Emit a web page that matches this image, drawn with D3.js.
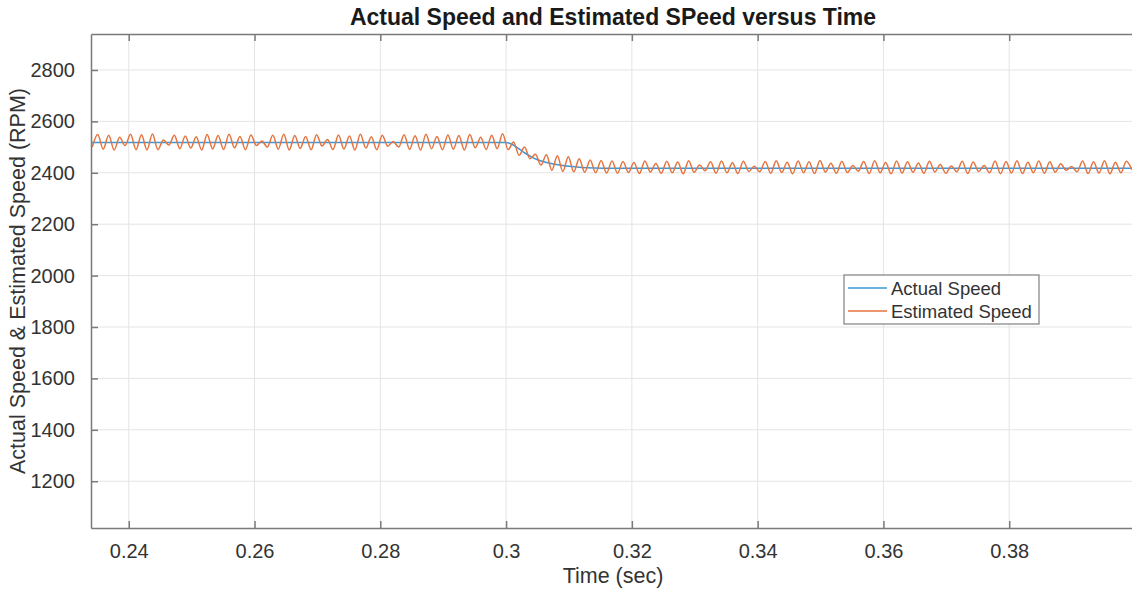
<!DOCTYPE html>
<html>
<head>
<meta charset="utf-8">
<script src="https://cdn.jsdelivr.net/npm/d3@7"></script>
<style>
  html, body { margin: 0; padding: 0; background: #ffffff; }
  svg { display: block; font-family: "Liberation Sans", Arial, Helvetica, sans-serif; }
</style>
</head>
<body>
<svg id="chart" width="1132" height="591"></svg>
<script>
// ---- data ---------------------------------------------------------------
const xTicks = [0.24, 0.26, 0.28, 0.30, 0.32, 0.34, 0.36, 0.38];
const xTickLabels = ["0.24", "0.26", "0.28", "0.3", "0.32", "0.34", "0.36", "0.38"];
const yTicks = [1200, 1400, 1600, 1800, 2000, 2200, 2400, 2600, 2800];
const yTickLabels = ["1200", "1400", "1600", "1800", "2000", "2200", "2400", "2600", "2800"];

// actual rotor speed (RPM) at selected instants (s)
const actualTime = [0.2340, 0.3000, 0.3010, 0.3020, 0.3030, 0.3040, 0.3050, 0.3060,
                    0.3070, 0.3080, 0.3090, 0.3100, 0.3120, 0.3140, 0.3170, 0.4000];
const actualSpeed = [2518, 2518, 2510, 2494, 2477, 2462, 2451, 2443,
                     2437, 2432, 2428, 2425, 2421, 2419, 2418, 2418];

// estimated speed (RPM), sampled every estDt seconds from estT0
const estT0 = 0.2342;
const estDt = 0.00087;
const estimatedSpeed = [
  2500, 2549, 2492, 2546, 2489, 2538, 2506, 2550, 2490, 2548,
  2489, 2551, 2490, 2528, 2508, 2546, 2494, 2543, 2496, 2540,
  2489, 2549, 2493, 2545, 2491, 2550, 2497, 2541, 2490, 2547,
  2506, 2524, 2500, 2546, 2492, 2550, 2489, 2545, 2495, 2541,
  2490, 2548, 2504, 2530, 2491, 2547, 2493, 2543, 2489, 2550,
  2496, 2540, 2490, 2546, 2503, 2522, 2500, 2548, 2491, 2544,
  2489, 2550, 2494, 2541, 2490, 2547, 2492, 2545, 2489, 2549,
  2497, 2538, 2491, 2546, 2494, 2552,
  2490, 2520, 2468, 2500, 2455, 2472, 2430, 2470, 2410, 2466,
  2405, 2462, 2404, 2455, 2402, 2450, 2400, 2448, 2399, 2446,
  2398, 2444, 2401, 2440, 2397, 2446, 2403, 2436, 2398, 2445,
  2400, 2442, 2396, 2447, 2402, 2430, 2408, 2443, 2398, 2446,
  2400, 2439, 2397, 2445, 2405, 2425, 2404, 2444, 2398, 2447,
  2401, 2441, 2396, 2446, 2400, 2443, 2397, 2448, 2403, 2437,
  2398, 2445, 2401, 2428, 2406, 2444, 2397, 2447, 2400, 2440,
  2396, 2446, 2399, 2443, 2402, 2438, 2398, 2445, 2403, 2432,
  2398, 2426, 2404, 2445, 2397, 2442, 2405, 2428, 2400, 2446,
  2396, 2444, 2399, 2447, 2397, 2441, 2400, 2446, 2398, 2443,
  2402, 2435, 2410, 2424, 2404, 2446, 2397, 2443, 2399, 2447,
  2396, 2441, 2400, 2445, 2412
];

const seriesNames = ["Actual Speed", "Estimated Speed"];
const seriesColors = ["#3d97d6", "#e5733f"];

// ---- layout -------------------------------------------------------------
const svg = d3.select("#chart");
const W = 1132, H = 591;
const plot = { left: 91, top: 34, right: 1135, bottom: 528 };
const textColor = "#333333";
const axisColor = "#7a7a7a";

svg.append("rect").attr("width", W).attr("height", H).attr("fill", "#ffffff");

const x = d3.scaleLinear().domain([0.234, 0.400]).range([plot.left, plot.right]);
const y = d3.scaleLinear().domain([1018, 2940]).range([plot.bottom, plot.top]);

// grid
const grid = svg.append("g").attr("stroke", "#e4e4e4").attr("stroke-width", 1);
grid.selectAll("line.v").data(xTicks).join("line")
  .attr("x1", d => x(d)).attr("x2", d => x(d))
  .attr("y1", plot.top).attr("y2", plot.bottom);
grid.selectAll("line.h").data(yTicks).join("line")
  .attr("x1", plot.left).attr("x2", plot.right)
  .attr("y1", d => y(d)).attr("y2", d => y(d));

// clip region for the traces
svg.append("clipPath").attr("id", "plotClip").append("rect")
  .attr("x", plot.left).attr("y", plot.top)
  .attr("width", plot.right - plot.left).attr("height", plot.bottom - plot.top);

const traces = svg.append("g").attr("clip-path", "url(#plotClip)");

const actualPts = actualTime.map((t, i) => [t, actualSpeed[i]]);
const estPts = estimatedSpeed.map((v, i) => [estT0 + i * estDt, v]);

const line = d3.line()
  .x(d => x(d[0])).y(d => y(d[1]))
  .curve(d3.curveMonotoneX);

traces.append("path").datum(actualPts)
  .attr("d", line).attr("fill", "none")
  .attr("stroke", seriesColors[0]).attr("stroke-width", 1.5);

traces.append("path").datum(estPts)
  .attr("d", line).attr("fill", "none")
  .attr("stroke", seriesColors[1]).attr("stroke-width", 1.5)
  .attr("stroke-linejoin", "round");

// axes (inward ticks, box style)
const tickLen = 7;
const xAxisBottom = d3.axisBottom(x).tickValues(xTicks)
  .tickFormat((d, i) => xTickLabels[i]).tickSizeInner(-tickLen).tickSizeOuter(0).tickPadding(16);
const xAxisTop = d3.axisTop(x).tickValues(xTicks)
  .tickFormat("").tickSizeInner(-tickLen).tickSizeOuter(0);
const yAxisLeft = d3.axisLeft(y).tickValues(yTicks)
  .tickFormat((d, i) => yTickLabels[i]).tickSizeInner(-tickLen).tickSizeOuter(0).tickPadding(16);

function styleAxis(g) {
  g.select(".domain").attr("stroke", axisColor).attr("stroke-width", 1.5);
  g.selectAll(".tick line").attr("stroke", axisColor).attr("stroke-width", 1.5);
  g.selectAll(".tick text").attr("fill", textColor)
    .attr("font-size", "20px")
    .attr("font-family", "'Liberation Sans', Arial, sans-serif");
}

svg.append("g").attr("transform", `translate(0,${plot.bottom})`).call(xAxisBottom).call(styleAxis);
svg.append("g").attr("transform", `translate(0,${plot.top})`).call(xAxisTop).call(styleAxis);
svg.append("g").attr("transform", `translate(${plot.left},0)`).call(yAxisLeft).call(styleAxis);

// titles
const cx = (plot.left + plot.right) / 2;
svg.append("text")
  .attr("x", cx).attr("y", 25)
  .attr("text-anchor", "middle")
  .attr("font-size", "23px").attr("font-weight", "bold")
  .attr("fill", "#1a1a1a")
  .text("Actual Speed and Estimated SPeed versus Time");

svg.append("text")
  .attr("x", cx).attr("y", 583)
  .attr("text-anchor", "middle")
  .attr("font-size", "21.5px").attr("fill", textColor)
  .text("Time (sec)");

svg.append("text")
  .attr("transform", `translate(25,${(plot.top + plot.bottom) / 2}) rotate(-90)`)
  .attr("text-anchor", "middle")
  .attr("font-size", "21.5px").attr("fill", textColor)
  .text("Actual Speed & Estimated Speed (RPM)");

// legend
const legend = svg.append("g").attr("transform", "translate(844,275)");
legend.append("rect")
  .attr("width", 195).attr("height", 49)
  .attr("fill", "#ffffff").attr("stroke", "#8a8a8a").attr("stroke-width", 1.3);
seriesNames.forEach((name, i) => {
  const ly = 13 + i * 23;
  legend.append("line")
    .attr("x1", 4).attr("x2", 43).attr("y1", ly).attr("y2", ly)
    .attr("stroke", seriesColors[i]).attr("stroke-width", 1.4);
  legend.append("text")
    .attr("x", 47).attr("y", ly + 6.5)
    .attr("font-size", "18.5px").attr("fill", textColor)
    .text(name);
});
</script>
</body>
</html>
